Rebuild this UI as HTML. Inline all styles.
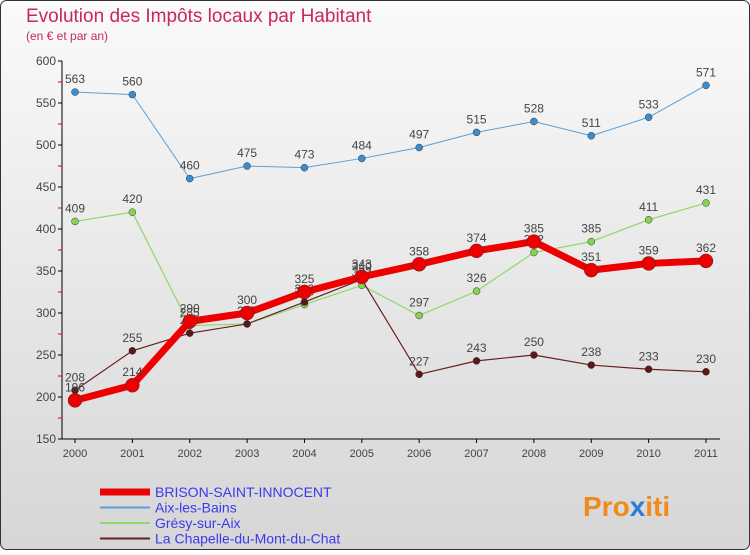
<!DOCTYPE html>
<html><head><meta charset="utf-8"><style>
body{margin:0;width:750px;height:550px;overflow:hidden;font-family:"Liberation Sans",sans-serif}
svg text{font-family:"Liberation Sans",sans-serif}
</style></head><body>
<svg id="chart" width="750" height="550" xmlns="http://www.w3.org/2000/svg">
<defs><linearGradient id="bg" x1="0" y1="0" x2="0" y2="1"><stop offset="0" stop-color="#fafafa"/><stop offset="1" stop-color="#d6d6d6"/></linearGradient></defs>
<rect x="0.5" y="0.5" width="749" height="549" rx="6" fill="url(#bg)" stroke="#333"/>
<text x="26" y="22" font-size="19" fill="#c8285a">Evolution des Impôts locaux par Habitant</text>
<text x="26" y="40" font-size="12" fill="#c8285a">(en € et par an)</text>
<g id="axes"></g><g id="series"></g><g id="legend"></g>
<text x="583" y="516" font-size="28" font-weight="bold" fill="#f08a1c">Pro<tspan fill="#2a7fd4">x</tspan>iti</text>
</svg>
<script>
const years=["2000","2001","2002","2003","2004","2005","2006","2007","2008","2009","2010","2011"];
const yTicks=[150,200,250,300,350,400,450,500,550,600];
const brison=[196,214,290,300,325,343,358,374,385,351,359,362];
const aix=[563,560,460,475,473,484,497,515,528,511,533,571];
const gresy=[409,420,285,287,310,333,297,326,372,385,411,431];
const chapelle=[208,255,276,287,313,340,227,243,250,238,233,230];
const NS="http://www.w3.org/2000/svg";
const X=i=>75+i*(706-75)/11;
const Y=v=>61+(600-v)*(439-61)/450;
function mk(t,a,p){const e=document.createElementNS(NS,t);for(const k in a)e.setAttribute(k,a[k]);p.appendChild(e);return e;}
const ax=document.getElementById('axes');
const yAxis=mk('line',{x1:62,y1:61,x2:62,y2:439,stroke:'#000'},ax);


const xAxis=mk('line',{x1:62,y1:439,x2:720,y2:439,stroke:'#000'},ax);


yTicks.forEach(v=>{
 mk('line',{x1:58,y1:Y(v),x2:62,y2:Y(v),stroke:'#000'},ax);
 if(v<600) mk('line',{x1:58,y1:Y(v+25),x2:62,y2:Y(v+25),stroke:'#e00'},ax);
 const t=mk('text',{x:56,y:Y(v)+4,'text-anchor':'end','font-size':12,fill:'#444'},ax);
 
 
 t.textContent=v;
});
years.forEach((y,i)=>{
 mk('line',{x1:X(i),y1:439,x2:X(i),y2:443,stroke:'#000'},ax);
 const t=mk('text',{x:X(i),y:457,'text-anchor':'middle','font-size':11,fill:'#444'},ax);
 
 
 t.textContent=y;
});
const sg=document.getElementById('series');
function series(data,color,w,r,name,dot){
 const g=mk('g',{},sg);
 
 
 const l=mk('polyline',{points:data.map((v,i)=>X(i)+','+Y(v)).join(' '),fill:'none',stroke:color,'stroke-width':w,'stroke-linejoin':'round'},g);
 
 
 data.forEach((v,i)=>{
  const c=mk('circle',{cx:X(i),cy:Y(v),r:r,fill:dot,stroke:'#333','stroke-width':0.5},g);
  
  
  const t=mk('text',{x:X(i),y:Y(v)-9,'text-anchor':'middle','font-size':12,fill:'#444'},g);
  
  
  t.textContent=v;
 });
}
series(aix,'#5aa0d8',1,3.5,'aix-les-bains','#3d8ccc');
series(gresy,'#8ed868',1.2,3.5,'gresy-sur-aix','#84d454');
series(chapelle,'#6b1f1f',1.2,3.5,'la-chapelle','#5a1818');
series(brison,'#ee0000',7,7,'brison-saint-innocent','#ee0000');
const lg=document.getElementById('legend');
const items=[["BRISON-SAINT-INNOCENT","#ee0000",7],["Aix-les-Bains","#5aa0d8",2],["Grésy-sur-Aix","#8ed868",2],["La Chapelle-du-Mont-du-Chat","#6b1f1f",2]];
items.forEach((it,i)=>{
 const y=492+i*15.5;
 const g=mk('g',{},lg);
 
 
 mk('line',{x1:100,y1:y,x2:150,y2:y,stroke:it[1],'stroke-width':it[2]},g);
 const t=mk('text',{x:155,y:y+5,'font-size':14,fill:'#3a3aee'},g);
 t.textContent=it[0];
});
</script>
</body></html>
